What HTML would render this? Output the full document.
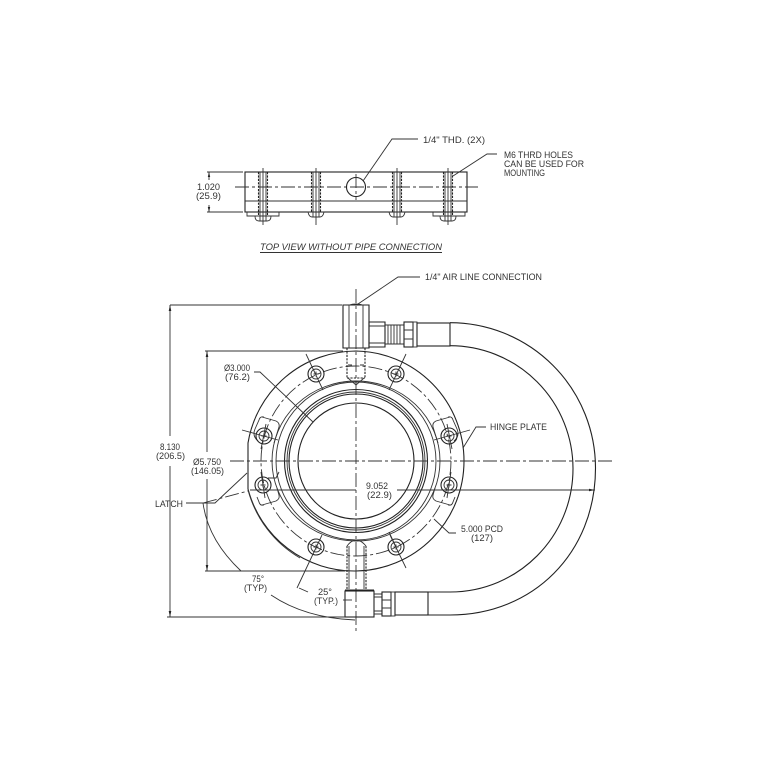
<!DOCTYPE html>
<html><head><meta charset="utf-8"><style>
html,body{margin:0;padding:0;background:#fff}
svg{display:block;filter:blur(.35px)}
text{font-family:"Liberation Sans",sans-serif;font-size:9px;fill:#333;stroke:none}
.l{fill:none;stroke:#333;stroke-width:.9}
.t{fill:none;stroke:#222;stroke-width:1.100}
.c{fill:none;stroke:#333;stroke-width:.9;stroke-dasharray:14 3 3 3}
.d{fill:none;stroke:#222;stroke-width:1.100;stroke-dasharray:2.200 1.200}
.a{fill:#222;stroke:none}
</style></head><body>
<svg width="768" height="768" viewBox="0 0 768 768" xmlns="http://www.w3.org/2000/svg">
<defs>
<g id="hole"><circle r="8" class="t"/><circle r="5" class="l"/><path d="M-2.500 0H2.500M0 -2.500V2.500" class="l"/></g>
<g id="bolt1"><path d="M-4.500 -15V29M4.500 -15V29" class="d"/><path d="M-3 -15V29M3 -15V29" class="l" stroke-width=".5"/><path d="M0 -19V38" class="l"/><path d="M-8 29Q-8 34 -4 34H4Q8 34 8 29M-3 29V34M3 29V34" class="l"/></g>
<g id="bolt2"><path d="M-4.500 -15V25M4.500 -15V25" class="d"/><path d="M-3 -15V25M3 -15V25" class="l" stroke-width=".5"/><path d="M0 -19V38" class="l"/><path d="M-8 25Q-7 30 -4 30H4Q7 30 8 25ZM-3 25V30M3 25V30" class="l"/></g>
</defs>

<!-- TOP VIEW -->
<rect x="245" y="172" width="222" height="40" class="t"/>
<path d="M245 201H467" class="l"/>
<path d="M235 187H478" class="c"/>
<circle cx="356" cy="187" r="9.500" class="t"/>
<path d="M356 174V200" class="c" stroke-dasharray="6 2 2 2"/>
<path d="M247 212V216H279V212M433 212V216H465V212" class="l"/>
<use href="#bolt1" x="263" y="187"/>
<use href="#bolt2" x="316" y="187"/>
<use href="#bolt2" x="397" y="187"/>
<use href="#bolt1" x="448" y="187"/>
<path d="M207 172H243M207 212H243M209 172V180M209 205V212" class="l"/>
<path class="a" d="M209 172l-1.200 5h2.400zM209 212l-1.200 -5h2.400z"/>
<text x="197" y="190" textLength="23" lengthAdjust="spacingAndGlyphs">1.020</text>
<text x="196" y="199" textLength="25" lengthAdjust="spacingAndGlyphs">(25.9)</text>
<path d="M418 139H392L363 181" class="l"/>
<text x="423" y="143" textLength="62" lengthAdjust="spacingAndGlyphs">1/4" THD. (2X)</text>
<path d="M497 154H487L453 176" class="l"/>
<text x="504" y="158" textLength="69" lengthAdjust="spacingAndGlyphs">M6 THRD HOLES</text>
<text x="504" y="167" textLength="80" lengthAdjust="spacingAndGlyphs">CAN BE USED FOR</text>
<text x="504" y="176" textLength="41" lengthAdjust="spacingAndGlyphs">MOUNTING</text>
<text x="260" y="250" textLength="182" lengthAdjust="spacingAndGlyphs" font-style="italic">TOP VIEW WITHOUT PIPE CONNECTION</text>
<path d="M260 252.500H442" class="l"/>

<!-- FLANGE -->
<path d="M248 443 A110 110 0 0 1 356 351 A110 110 0 0 1 464 461 A110 110 0 0 1 356 571 A110 110 0 0 1 248 489Z" class="t"/>
<path d="M248 490 A112 112 0 0 0 300 558" class="l"/>
<circle cx="356" cy="461" r="95" class="c" stroke-dasharray="12 3 3 3"/>
<ellipse cx="356" cy="461" rx="84" ry="80" class="l"/>
<ellipse cx="356" cy="461" rx="80" ry="79" class="l"/>
<circle cx="356" cy="461" r="71.500" class="t"/>
<circle cx="356" cy="461" r="69" class="l"/>
<circle cx="356" cy="461" r="67" class="t"/>
<circle cx="356" cy="461" r="58" class="t"/>

<!-- slots -->
<path d="M262 417 L276 421 Q280 423 279 427 L274 443 M255 429 L259 420 Q260 416 264 417 M255 429 Q252 436 258 441" class="l"/>
<path d="M450 417 L436 421 Q432 423 433 427 L438 443 M457 429 L453 420 Q452 416 448 417 M457 429 Q460 436 454 441" class="l"/>
<path d="M262 505 L276 501 Q280 499 279 495 L277 488 M257 497 L259 502 Q260 506 264 505" class="l"/>
<path d="M450 505 L436 501 Q432 499 433 495 L435 488 M455 497 L453 502 Q452 506 448 505" class="l"/>
<path d="M268 478 H276 L279 472" class="l"/>

<!-- holes -->
<use href="#hole" x="316" y="374"/>
<use href="#hole" x="396" y="374"/>
<use href="#hole" x="264" y="436"/>
<use href="#hole" x="449" y="436"/>
<use href="#hole" x="263" y="485"/>
<use href="#hole" x="449" y="485"/>
<use href="#hole" x="316" y="547"/>
<use href="#hole" x="396" y="547"/>
<path d="M306 354L323 390M406 354L389 390M242 430L278 440M470 430L434 440M261 472L265 498M451 472L447 498M322 535L297 588M390 535L406 568M389 532L396 547M266 424L261 449M447 424L452 449" class="l"/>

<!-- centre lines -->
<path d="M230 461H612" class="c"/>
<path d="M356 289V633" class="c"/>

<!-- top fitting -->
<path d="M343 305H369V348H343Z" class="t"/>
<path d="M349 305V348M363 305V348M349 305Q356 303 363 305" class="l"/>
<path d="M369 322H385V347H369Z" class="t"/>
<path d="M369 326H385M369 343H385M385 325H404V344H385" class="l"/>
<path d="M388 325V344M391 325V344M394 325V344M397 325V344M400 325V344" class="l" stroke-width=".3"/>
<rect x="404" y="322" width="9" height="25" class="t"/>
<path d="M404 330H413M404 339H413" class="l"/>
<rect x="413" y="322" width="4" height="25" class="l"/>
<rect x="417" y="323" width="33" height="23" class="t"/>
<path d="M347 348V378M365 348V378M347 378H365" class="d"/>
<path d="M348 365H352M360 365H364" class="l"/>
<path d="M348 378L356 385L364 378" class="l"/>

<!-- bottom fitting -->
<rect x="345" y="591" width="29" height="26" class="t"/>
<path d="M345 590H374" class="t" stroke-width="2" stroke="#777"/>
<path d="M347 546V589M366 546V589" class="d"/>
<path d="M349 546V589M364 546V589" class="l" stroke-width=".5"/>
<path d="M347 546Q356 534 366 546" class="l"/>
<path d="M343 600H352" class="l"/>
<path d="M374 594H382V614H374M374 597H382M374 611H382" class="l"/>
<rect x="382" y="592" width="9" height="24" class="t"/>
<path d="M382 600H391M382 608H391" class="l"/>
<rect x="391" y="592" width="4" height="24" class="l"/>
<rect x="395" y="592" width="33" height="23" class="t"/>

<!-- hose -->
<path d="M450 322.700 A145.500 145.500 0 0 1 595.500 468 C595.500 553 533 615 450 615 H428" class="t"/>
<path d="M450 345.700 A123 123 0 0 1 573 468.500 C573 537 518 592 450 592 H428" class="t"/>

<!-- dimensions -->
<path d="M170 305H342M167 617H345M170 305V436M170 466V617" class="l"/>
<path class="a" d="M170 305l-1.300 6h2.600zM170 617l-1.300 -6h2.600z"/>
<path d="M205 351H343M205 571H345M207 351V452M207 479V571" class="l"/>
<path class="a" d="M207 351l-1.300 6h2.600zM207 571l-1.300 -6h2.600z"/>
<path d="M250 490H356M397 490H595" class="l"/>
<path class="a" d="M595 490l-6 -1.300v2.600z"/>
<path d="M203 503L248 491" class="c" stroke-dasharray="10 2 2 2"/>
<path d="M186 503H203M203 503H215L247 473" class="l"/>
<path d="M203 503Q208 540 241 571" class="l"/>
<path d="M271 595Q305 618 355 620" class="l"/>
<path d="M299 588L308 592" class="l"/>
<path d="M254 372H260L313 422" class="l"/>
<path d="M420 277H398L358 304" class="l"/>
<path d="M486 427H476L463 448" class="l"/>
<path d="M456 533H449L434 519" class="l"/>

<text x="425" y="280" textLength="117" lengthAdjust="spacingAndGlyphs">1/4" AIR LINE CONNECTION</text>
<text x="224" y="371" textLength="26" lengthAdjust="spacingAndGlyphs">Ø3.000</text>
<text x="225" y="380" textLength="25" lengthAdjust="spacingAndGlyphs">(76.2)</text>
<text x="160" y="450" textLength="20" lengthAdjust="spacingAndGlyphs">8.130</text>
<text x="156" y="459" textLength="29" lengthAdjust="spacingAndGlyphs">(206.5)</text>
<text x="193" y="465" textLength="28" lengthAdjust="spacingAndGlyphs">Ø5.750</text>
<text x="191" y="474" textLength="33" lengthAdjust="spacingAndGlyphs">(146.05)</text>
<text x="490" y="430" textLength="57" lengthAdjust="spacingAndGlyphs">HINGE PLATE</text>
<text x="155" y="507" textLength="28" lengthAdjust="spacingAndGlyphs">LATCH</text>
<text x="252" y="582" textLength="12" lengthAdjust="spacingAndGlyphs">75°</text>
<text x="244" y="591" textLength="23" lengthAdjust="spacingAndGlyphs">(TYP)</text>
<text x="318" y="595" textLength="14" lengthAdjust="spacingAndGlyphs">25°</text>
<text x="314" y="604" textLength="24" lengthAdjust="spacingAndGlyphs">(TYP.)</text>
<text x="366" y="489" textLength="22" lengthAdjust="spacingAndGlyphs">9.052</text>
<text x="367" y="498" textLength="25" lengthAdjust="spacingAndGlyphs">(22.9)</text>
<text x="461" y="532" textLength="42" lengthAdjust="spacingAndGlyphs">5.000 PCD</text>
<text x="471" y="541" textLength="22" lengthAdjust="spacingAndGlyphs">(127)</text>
</svg>
</body></html>
